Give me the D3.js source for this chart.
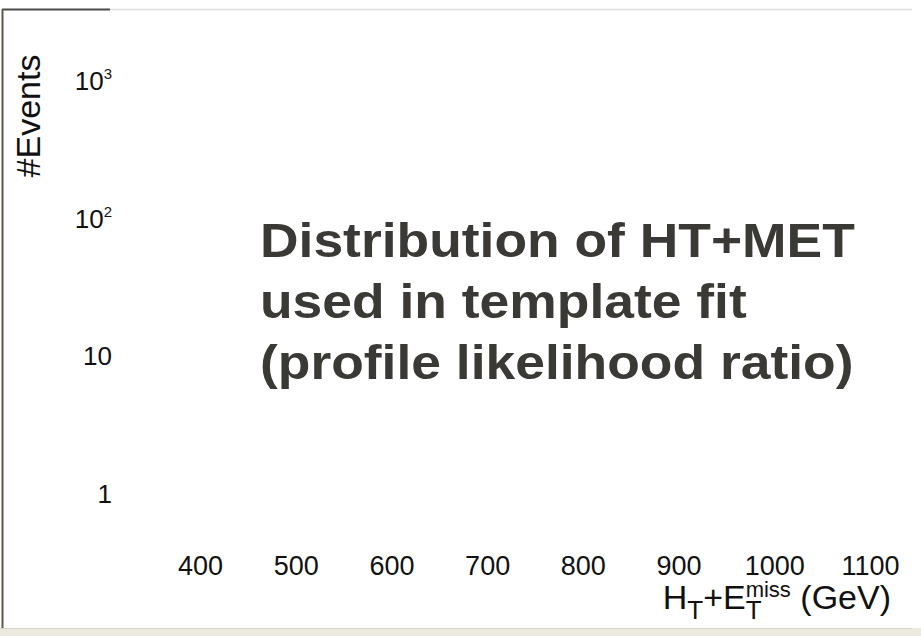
<!DOCTYPE html>
<html>
<head>
<meta charset="utf-8">
<script src="https://cdn.jsdelivr.net/npm/d3@7"></script>
<style>
  html, body { margin: 0; padding: 0; background: #fff; }
  svg { display: block; font-family: "Liberation Sans", Arial, sans-serif; }
</style>
</head>
<body>
<div id="chart"></div>
<script>
// Axis ticks
const xTicks = [400, 500, 600, 700, 800, 900, 1000, 1100];
const yTicks = [1, 10, 100, 1000];
const yTickLabels = [['1', ''], ['10', ''], ['10', '2'], ['10', '3']];
const titleLines = ['Distribution of HT+MET', 'used in template fit', '(profile likelihood ratio)'];

const width = 921, height = 636;

const svg = d3.select('#chart')
    .append('svg')
    .attr('width', width)
    .attr('height', height);

// frame of the slide
svg.append('line')
    .attr('x1', 110).attr('x2', 912).attr('y1', 9.5).attr('y2', 9.5)
    .attr('stroke', '#dcdcdc').attr('stroke-width', 1.5);
svg.append('line')
    .attr('x1', 2).attr('x2', 110).attr('y1', 9.5).attr('y2', 9.5)
    .attr('stroke', '#4a4a4a').attr('stroke-width', 2);
svg.append('line')
    .attr('x1', 2.5).attr('x2', 2.5).attr('y1', 9).attr('y2', 630)
    .attr('stroke', '#5e574a').attr('stroke-width', 2);
svg.append('rect')
    .attr('x', 0).attr('y', 628).attr('width', width).attr('height', 8)
    .attr('fill', '#ece9de');
svg.append('line')
    .attr('x1', 0).attr('x2', 912).attr('y1', 628.5).attr('y2', 628.5)
    .attr('stroke', '#d6d3c8');

// scales
const x = d3.scaleLinear().domain([400, 1100]).range([200, 870]);
const y = d3.scaleLog().domain([1, 1000]).range([493, 80]);

// x axis (labels only)
const xAxis = svg.append('g')
    .attr('transform', 'translate(0,556)')
    .call(d3.axisBottom(x).tickValues(xTicks).tickSize(0).tickFormat(d3.format('d')));
xAxis.select('.domain').remove();
xAxis.selectAll('text')
    .attr('font-size', 27)
    .attr('font-family', '"Liberation Sans", Arial, sans-serif')
    .attr('fill', '#111')
    .attr('dy', '0.71em')
    .attr('y', 0);

// y axis labels with exponents
const yLab = svg.append('g').classed('y-labels', true);
yTicks.forEach((v, i) => {
    const t = yLab.append('text')
        .attr('x', 112)
        .attr('y', y(v) + 10)
        .attr('text-anchor', 'end')
        .attr('font-size', 26)
        .attr('fill', '#111');
    t.append('tspan').text(yTickLabels[i][0]);
    if (yTickLabels[i][1]) {
        t.append('tspan')
            .attr('font-size', 15)
            .attr('dy', -11)
            .text(yTickLabels[i][1]);
    }
});

// y axis title
svg.append('text')
    .attr('transform', 'translate(40,116) rotate(-90)')
    .attr('text-anchor', 'middle')
    .attr('font-size', 34)
    .attr('fill', '#111')
    .text('#Events');

// x axis title H_T+E_T^miss (GeV)
const xt = svg.append('text')
    .attr('x', 891)
    .attr('y', 609)
    .attr('text-anchor', 'end')
    .attr('font-size', 34)
    .attr('fill', '#111');
xt.append('tspan').text('H');
xt.append('tspan').attr('font-size', 26).attr('dy', 10).text('T');
xt.append('tspan').attr('dy', -10).text('+E');
xt.append('tspan').attr('font-size', 26).attr('dy', 10).text('T');
xt.append('tspan').attr('font-size', 22).attr('dx', -16).attr('dy', -22).text('miss');
xt.append('tspan').attr('dy', 12).text(' (GeV)');

// overlay annotation, glyphs a bit wider than the font's own
const title = svg.append('g')
    .classed('note', true)
    .attr('transform', 'translate(260,0) scale(1.09,1)');
titleLines.forEach((line, i) => {
    title.append('text')
        .attr('x', 0)
        .attr('y', 257 + i * 61)
        .attr('font-size', 49)
        .attr('font-weight', 'bold')
        .attr('fill', '#3a3935')
        .text(line);
});
</script>
</body>
</html>
